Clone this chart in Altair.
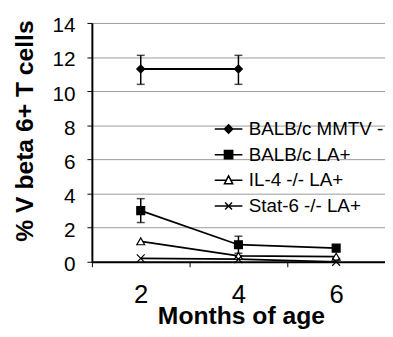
import altair as alt
import pandas as pd

# ---- data ----
months = [2, 4, 6]
series_names = ["BALB/c MMTV -", "BALB/c LA+", "IL-4 -/- LA+", "Stat-6 -/- LA+"]
mmtv_vals = [11.3, 11.3, None]
la_vals = [3.0, 1.0, 0.8]
il4_vals = [1.2, 0.35, 0.3]
stat6_vals = [0.2, 0.15, 0.0]

err_series = ["BALB/c MMTV -", "BALB/c MMTV -", "BALB/c LA+", "BALB/c LA+"]
err_months = [2, 4, 2, 4]
err_low = [10.4, 10.4, 2.3, 0.5]
err_high = [12.1, 12.1, 3.7, 1.5]

y_tick_values = [0, 2, 4, 6, 8, 10, 12, 14]
x_axis_values = [1, 2, 3, 4, 5, 6, 7]
x_domain = [1, 7]

# ---- tables ----
rows = []
for name, vals in zip(series_names, [mmtv_vals, la_vals, il4_vals, stat6_vals]):
    for m, v in zip(months, vals):
        if v is not None:
            rows.append({"series": name, "month": m, "value": v})
df = pd.DataFrame(rows)

err_df = pd.DataFrame({"series": err_series, "month": err_months,
                       "value": err_low, "high": err_high})
cap_df = pd.DataFrame({
    "month": err_months + err_months,
    "value": err_low + err_high,
})

FONT = "Liberation Sans"

x_scale = alt.Scale(domain=x_domain, nice=False, zero=False)
x_axis = alt.Axis(
    values=x_axis_values,
    labelExpr="datum.value % 2 == 0 ? datum.label : ''",
    tickOpacity={"condition": {"test": "datum.value % 2 == 0", "value": 0}, "value": 1},
    labelOverlap=False,
    grid=False,
    domainColor="black",
    domainWidth=2,
    tickColor="black",
    tickWidth=1,
    tickSize=5,
    labelPadding=15,
    labelFont=FONT,
    labelFontSize=26,
    labelColor="black",
    title="Months of age",
    titleFont=FONT,
    titleFontSize=25,
    titleFontWeight="bold",
    titleColor="black",
    titleX=151,
    titleY=63,
    titleBaseline="alphabetic",
    titleAlign="center",
)

y_scale = alt.Scale(domain=[0, 14], nice=False)
y_axis = alt.Axis(
    values=y_tick_values,
    labelOverlap=False,
    grid=True,
    gridColor="#9a9a9a",
    gridWidth=1,
    domainColor="black",
    domainWidth=2,
    tickColor="black",
    tickWidth=1,
    tickSize=5,
    labelPadding=12,
    labelOffset=3,
    labelFont=FONT,
    labelFontSize=21,
    labelColor="black",
    title="% V beta 6+ T cells",
    titleFont=FONT,
    titleFontSize=25,
    titleFontWeight="bold",
    titleColor="black",
    titleX=-60,
    titleY=109,
    titleBaseline="alphabetic",
    titleAlign="center",
    titleAngle=270,
)

x_enc = alt.X("month:Q", scale=x_scale, axis=x_axis)
y_enc = alt.Y("value:Q", scale=y_scale, axis=y_axis)

x_path = "M-1,-1L1,1M-1,1L1,-1"
plot_shapes = ["diamond", "square", "triangle-up", x_path]
fill_range = ["black", "black", "white", "black"]
stroke_range = ["black", "black", "black", "black"]

legend_paths = [
    "M-2,0L2,0M0,-0.6L0.6,0L0,0.6L-0.6,0Z",
    "M-2,0L2,0M-0.6,-0.6L0.6,-0.6L0.6,0.6L-0.6,0.6Z",
    "M-2,0L-0.33,0M0.33,0L2,0M0,-0.65L0.6,0.5L-0.6,0.5Z",
    "M-2,0L2,0M-0.5,-0.5L0.5,0.5M-0.5,0.5L0.5,-0.5",
]

lines = alt.Chart(df).mark_line(color="black", strokeWidth=1.8).encode(
    x=x_enc, y=y_enc, detail="series:N"
)

err_rules = alt.Chart(err_df).mark_rule(color="black", strokeWidth=1.5).encode(
    x=x_enc, y=y_enc, y2="high:Q"
)

caps = alt.Chart(cap_df).mark_tick(
    color="black", orient="horizontal", size=8, thickness=1.5
).encode(x=x_enc, y=y_enc)

points = alt.Chart(df).mark_point(
    filled=True, opacity=1, stroke="black", strokeWidth=1.2, size=64
).encode(
    x=x_enc,
    y=y_enc,
    shape=alt.Shape("series:N", scale=alt.Scale(domain=series_names, range=plot_shapes), legend=None),
    fill=alt.Fill("series:N", scale=alt.Scale(domain=series_names, range=fill_range), legend=None),
)

leg = alt.Legend(
    title=None,
    orient="none",
    legendX=129,
    legendY=98,
    padding=0,
    symbolSize=196,
    symbolStrokeColor="black",
    symbolStrokeWidth=1.5,
    symbolOpacity=1,
    labelFont=FONT,
    labelFontSize=19,
    labelColor="black",
    labelOffset=11,
    labelLimit=300,
    rowPadding=6,
)

legend_layer = alt.Chart(df).mark_point(
    filled=False, strokeWidth=1.5, opacity=0, size=196
).encode(
    x=x_enc,
    y=y_enc,
    shape=alt.Shape("series:N", scale=alt.Scale(domain=series_names, range=legend_paths), legend=leg),
    fill=alt.Fill("series:N", scale=alt.Scale(domain=series_names, range=fill_range), legend=leg),
    stroke=alt.Stroke("series:N", scale=alt.Scale(domain=series_names, range=stroke_range), legend=leg),
)

chart = alt.layer(lines, err_rules, caps, points, legend_layer).resolve_scale(
    shape="independent", fill="independent", stroke="independent"
).properties(
    width=297,
    height=242,
    autosize=alt.AutoSizeParams(type="none"),
    padding={"left": 85, "top": 13, "right": 0, "bottom": 68},
    background="white",
).configure_view(stroke=None)

chart.save("out.html", embed_options={"renderer": "svg", "actions": False})
